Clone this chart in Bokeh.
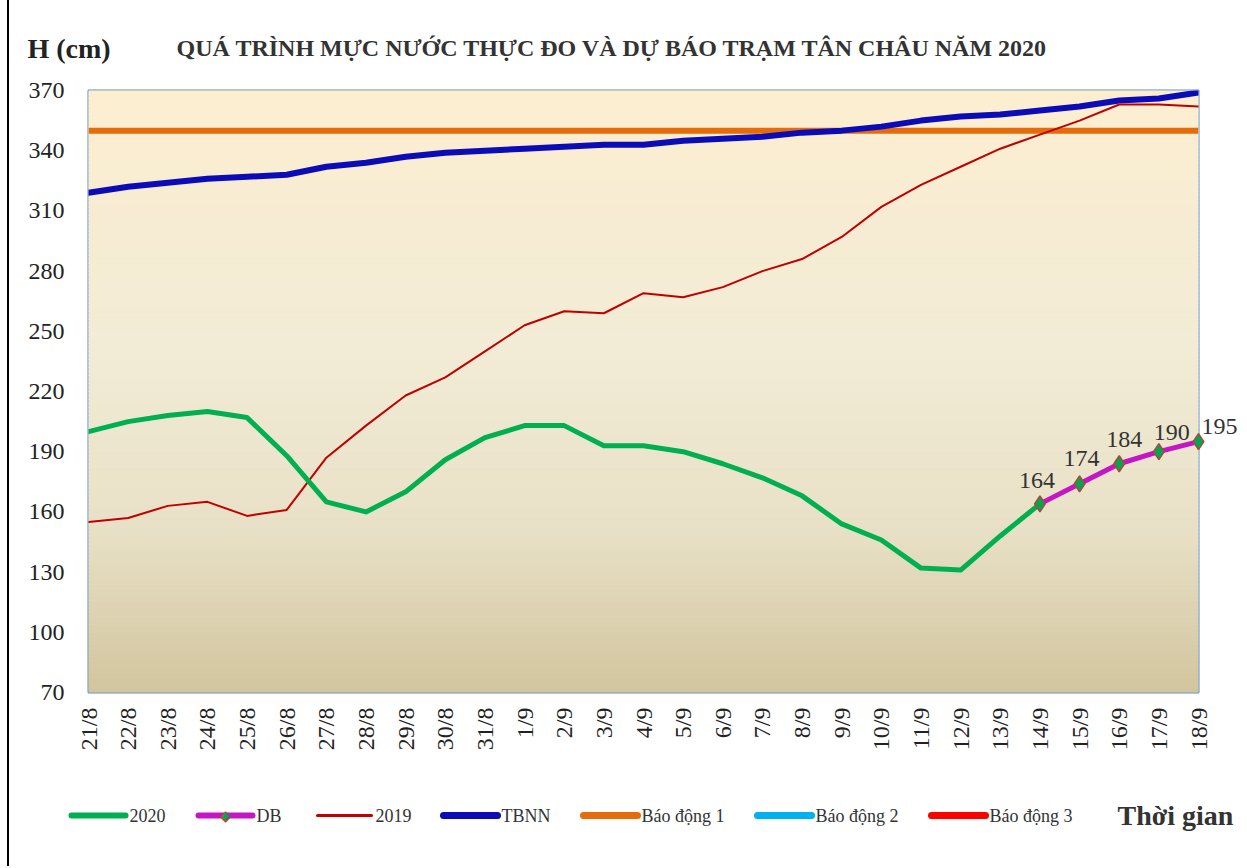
import numpy as np
from bokeh.plotting import figure
from bokeh.models import Range1d, FixedTicker
from bokeh.core.properties import value
from bokeh.embed import file_html
from bokeh.resources import INLINE

# ---------------- data ----------------
dates = ["21/8", "22/8", "23/8", "24/8", "25/8", "26/8", "27/8", "28/8", "29/8", "30/8",
         "31/8", "1/9", "2/9", "3/9", "4/9", "5/9", "6/9", "7/9", "8/9", "9/9",
         "10/9", "11/9", "12/9", "13/9", "14/9", "15/9", "16/9", "17/9", "18/9"]
dates_2020 = dates[:25]
h2020 = [200, 205, 208, 210, 207, 188, 165, 160, 170, 186,
         197, 203, 203, 193, 193, 190, 184, 177, 168, 154,
         146, 132, 131, 148, 164]
dates_db = ["14/9", "15/9", "16/9", "17/9", "18/9"]
h_db = [164, 174, 184, 190, 195]
h2019 = [155, 157, 163, 165, 158, 161, 187, 203, 218, 227,
         240, 253, 260, 259, 269, 267, 272, 280, 286, 297,
         312, 323, 332, 341, 348, 355, 363, 363, 362]
tbnn = [319, 322, 324, 326, 327, 328, 332, 334, 337, 339,
        340, 341, 342, 343, 343, 345, 346, 347, 349, 350,
        352, 355, 357, 358, 360, 362, 365, 366, 369]
bao_dong_1 = 350
bao_dong_2 = 400
bao_dong_3 = 450
y_ticks = [70, 100, 130, 160, 190, 220, 250, 280, 310, 340, 370]
series_names = ["2020", "DB", "2019", "TBNN", "Báo động 1", "Báo động 2", "Báo động 3"]
title_text = "QUÁ TRÌNH MỰC NƯỚC THỰC ĐO VÀ DỰ BÁO TRẠM TÂN CHÂU NĂM 2020"
y_name = "H (cm)"
x_name = "Thời gian"

# ---------------- styling ----------------
SERIF = "Liberation Serif"
colors = {"2020": "#00B050", "DB": "#C416C4", "2019": "#C00000", "TBNN": "#0B0BB8",
          "Báo động 1": "#E46C0A", "Báo động 2": "#00B0F0", "Báo động 3": "#FF0000"}
widths = {"2020": 5, "DB": 5, "2019": 2, "TBNN": 6,
          "Báo động 1": 6, "Báo động 2": 6, "Báo động 3": 6}
MARK_FILL, MARK_LINE = "#00A651", "#B0443C"

# frame geometry (pixels inside the figure)
FIG_W, FIG_H = 1236, 866
B_LEFT, B_TOP, B_RIGHT, B_BOTTOM = 79, 90, 47, 174
FRAME_W = FIG_W - B_LEFT - B_RIGHT
FRAME_H = FIG_H - B_TOP - B_BOTTOM

idx = {d: i for i, d in enumerate(dates)}
x_all = [idx[d] for d in dates]
x_2020 = [idx[d] for d in dates_2020]
x_db = [idx[d] for d in dates_db]

xr = Range1d(0, len(dates) - 1)
yr = Range1d(y_ticks[0], y_ticks[-1])

p = figure(width=FIG_W, height=FIG_H, x_range=xr, y_range=yr, title_location=None,
           output_backend="svg", toolbar_location=None,
           min_border_left=B_LEFT, min_border_right=B_RIGHT,
           min_border_top=B_TOP, min_border_bottom=B_BOTTOM)
p.styles = {"border-left": "2px solid black", "margin-left": "7px"}
p.background_fill_color = None
p.border_fill_color = "white"
p.outline_line_color = "#5A8BCB"
p.outline_line_width = 2
p.xgrid.visible = False
p.ygrid.visible = False

# gradient background (decoration)
n = 150
edges = np.linspace(yr.start, yr.end, n + 1)
mid = (edges[:-1] + edges[1:]) / 2
stop_v = [70, 150, 240, 300, 370]
stop_c = [(210, 197, 158), (232, 224, 198), (242, 236, 214), (246, 236, 211), (253, 238, 208)]
cols = []
for m in mid:
    c = [int(round(np.interp(m, stop_v, [s[i] for s in stop_c]))) for i in range(3)]
    cols.append("#%02x%02x%02x" % tuple(c))
p.quad(left=xr.start, right=xr.end, bottom=edges[:-1], top=edges[1:],
       fill_color=cols, line_color=cols, line_width=1)

# axes
p.xaxis.ticker = FixedTicker(ticks=x_all)
p.xaxis.major_label_overrides = {i: d for i, d in enumerate(dates)}
p.xaxis.major_label_orientation = np.pi / 2
p.yaxis.ticker = FixedTicker(ticks=y_ticks)
for ax in (p.xaxis, p.yaxis):
    ax.axis_line_color = None
    ax.major_tick_line_color = None
    ax.minor_tick_line_color = None
    ax.major_label_text_font = SERIF
    ax.major_label_text_color = "#222222"
p.yaxis.major_label_text_font_size = "24px"
p.yaxis.major_label_standoff = 18
p.xaxis.major_label_text_font_size = "24px"
p.xaxis.major_label_standoff = 9

# series
for nm, val in (("Báo động 2", bao_dong_2), ("Báo động 3", bao_dong_3), ("Báo động 1", bao_dong_1)):
    p.line(x_all, [val] * len(dates), line_color=colors[nm], line_width=widths[nm])
p.line(x_all, tbnn, line_color=colors["TBNN"], line_width=widths["TBNN"],
       line_join="round", line_cap="round")
p.line(x_all, h2019, line_color=colors["2019"], line_width=widths["2019"],
       line_join="round", line_cap="round")
p.line(x_2020, h2020, line_color=colors["2020"], line_width=widths["2020"],
       line_join="round", line_cap="round")
p.line(x_db, h_db, line_color=colors["DB"], line_width=widths["DB"],
       line_join="round", line_cap="round")
p.scatter(x_db, h_db, marker="diamond", size=16, fill_color=MARK_FILL,
          line_color=MARK_LINE, line_width=1.5, level="overlay")

# data labels (label offsets in screen pixels are styling)
lbl_dx = [-3, 2, 5, 13, 21]
lbl_dy = [-23, -25, -24, -19, -15]
for xi, v, dx, dy in zip(x_db, h_db, lbl_dx, lbl_dy):
    p.text(x=[xi], y=[v], text=[str(v)], text_font=value(SERIF), text_font_size="24px",
           text_color="#333333", text_align="center", text_baseline="alphabetic",
           x_offset=dx, y_offset=dy, level="overlay")

# chart title and axis names: text anchored at the frame corners, drawn unclipped
def corner_text(txt, corner, dx, dy, size, color="#333333", bold=True):
    cx = xr.start if "left" in corner else xr.end
    cy = yr.end if "top" in corner else yr.start
    p.text(x=[cx], y=[cy], text=[txt], text_font=value(SERIF), text_font_size=size,
           text_font_style="bold" if bold else "normal", text_color=color,
           text_align="left", text_baseline="middle", x_offset=dx, y_offset=dy,
           level="overlay")

corner_text(title_text, "top_left", 88, -43, "24px")
corner_text(y_name, "top_left", -61, -42, "28px", color="#222222")
corner_text(x_name, "bottom_right", -81, 123, "28px")

# ---- legend drawn below the axis (overlay level, outside the frame) ----
def to_data(fx, fy):
    """frame-relative pixels (x right, y down from frame top-left) -> data coords"""
    dx = xr.start + fx / FRAME_W * (xr.end - xr.start)
    dy = yr.end - fy / FRAME_H * (yr.end - yr.start)
    return dx, dy

leg_glyph_left = [-17, 110, 229, 355, 495, 669, 843]   # px from frame left
LEG_GLYPH_W = 54
LEG_Y = 123                                               # px below frame bottom
leg_fy = FRAME_H + LEG_Y
for nm, gx in zip(series_names, leg_glyph_left):
    x0, y0 = to_data(gx, leg_fy)
    x1, _ = to_data(gx + LEG_GLYPH_W, leg_fy)
    p.segment(x0=[x0], y0=[y0], x1=[x1], y1=[y0], line_color=colors[nm],
              line_width=widths[nm] + 1, line_cap="round", level="overlay")
    if nm == "DB":
        for sz, col in (("15px", MARK_LINE), ("10px", MARK_FILL)):
            p.text(x=[xr.start], y=[yr.start], text=["◆"], text_font=value("DejaVu Sans"),
                   text_font_size=sz, text_color=col, text_align="center",
                   text_baseline="middle", x_offset=gx + LEG_GLYPH_W / 2, y_offset=LEG_Y,
                   level="overlay")
    p.text(x=[xr.start], y=[yr.start], text=[nm], text_font=value(SERIF),
           text_font_size="18px", text_color="#333333", text_align="left",
           text_baseline="middle", x_offset=gx + LEG_GLYPH_W + 4, y_offset=LEG_Y,
           level="overlay")

open("out.html", "w").write(file_html(p, INLINE))
